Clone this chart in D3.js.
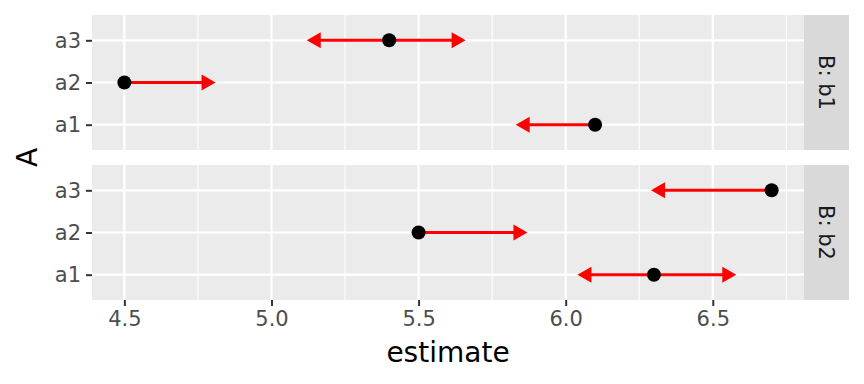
<!DOCTYPE html>
<html><head><meta charset="utf-8">
<script src="https://cdn.jsdelivr.net/npm/d3@7"></script>
<style>body{margin:0;background:#fff}svg{display:block}text{font-family:"DejaVu Sans",sans-serif}</style>
</head><body>
<svg id="c" width="864" height="384"></svg>
<script>
const categories = ["a1","a2","a3"];
const facets = ["b1","b2"];
const estimate = {b1:[6.1,4.5,5.4], b2:[6.3,5.5,6.7]};
const lower    = {b1:[5.83,4.5,5.12], b2:[6.04,5.5,6.29]};
const upper    = {b1:[6.1,4.81,5.66], b2:[6.58,5.87,6.7]};
const xTicks = [4.5,5.0,5.5,6.0,6.5];
const xMinor = [4.75,5.25,5.75,6.25,6.75];

const svg = d3.select("#c");
const L = 92, R = 804, stripW = 45;
const panels = [{f:"b1", top:15, bot:150},{f:"b2", top:165, bot:300}];
const x = d3.scaleLinear().domain([4.39,6.81]).range([L,R]);

panels.forEach((p,pi)=>{
  const y = d3.scalePoint().domain(categories.slice().reverse()).range([p.top,p.bot]).padding(0.6);
  const g = svg.append("g");
  g.append("rect").attr("x",L).attr("y",p.top).attr("width",R-L).attr("height",p.bot-p.top).attr("fill","#EBEBEB");
  g.selectAll(".mn").data(xMinor).enter().append("line")
    .attr("x1",d=>x(d)).attr("x2",d=>x(d)).attr("y1",p.top).attr("y2",p.bot)
    .attr("stroke","#fff").attr("stroke-width",1.1);
  g.selectAll(".mj").data(xTicks).enter().append("line")
    .attr("x1",d=>x(d)).attr("x2",d=>x(d)).attr("y1",p.top).attr("y2",p.bot)
    .attr("stroke","#fff").attr("stroke-width",2.2);
  g.selectAll(".hy").data(categories).enter().append("line")
    .attr("x1",L).attr("x2",R).attr("y1",d=>y(d)).attr("y2",d=>y(d))
    .attr("stroke","#fff").attr("stroke-width",2.2);
  // strip
  g.append("rect").attr("x",R).attr("y",p.top).attr("width",stripW).attr("height",p.bot-p.top).attr("fill","#D9D9D9");
  g.append("text").attr("transform",`translate(${R+stripW/2},${(p.top+p.bot)/2}) rotate(90)`)
    .attr("text-anchor","middle").attr("dy","0.35em").attr("font-size",21).attr("fill","#1A1A1A").text("B: "+p.f);
  // y axis
  const ya = d3.axisLeft(y).tickSize(6).tickPadding(5);
  const yg = g.append("g").attr("transform",`translate(${L},0)`).call(ya);
  yg.select(".domain").remove();
  yg.selectAll(".tick line").attr("stroke","#333").attr("stroke-width",2);
  yg.selectAll(".tick text").attr("font-size",21).attr("fill","#4D4D4D").attr("font-family","DejaVu Sans");
  // arrows
  const hl = 14, hw = 8;
  function arrow(y0, x0, x1){
    if (Math.abs(x1-x0) < 1e-9) return;
    const px0 = x(x0), px1 = x(x1), dir = Math.sign(px1-px0);
    g.append("line").attr("x1",px0).attr("x2",px1 - dir*hl*0.8).attr("y1",y0).attr("y2",y0)
      .attr("stroke","#FF0000").attr("stroke-width",3);
    g.append("path").attr("d",`M${px1},${y0}L${px1-dir*hl},${y0-hw}L${px1-dir*hl},${y0+hw}Z`).attr("fill","#FF0000");
  }
  categories.forEach((c,i)=>{
    arrow(y(c), estimate[p.f][i], lower[p.f][i]);
    arrow(y(c), estimate[p.f][i], upper[p.f][i]);
  });
  g.selectAll(".pt").data(categories).enter().append("circle")
    .attr("cx",(d,i)=>x(estimate[p.f][i])).attr("cy",d=>y(d)).attr("r",7).attr("fill","#000");
});

// x axis
const xa = d3.axisBottom(x).tickValues(xTicks).tickFormat(d3.format(".1f")).tickSize(6).tickPadding(5);
const xg = svg.append("g").attr("transform",`translate(0,300)`).call(xa);
xg.select(".domain").remove();
xg.selectAll(".tick line").attr("stroke","#333").attr("stroke-width",2);
xg.selectAll(".tick text").attr("font-size",21).attr("fill","#4D4D4D").attr("font-family","DejaVu Sans");

svg.append("text").attr("x",(L+R)/2).attr("y",362).attr("text-anchor","middle").attr("font-size",28).attr("fill","#000").text("estimate");
svg.append("text").attr("transform",`translate(37,157.5) rotate(-90)`).attr("text-anchor","middle").attr("font-size",28).attr("fill","#000").text("A");
</script>
</body></html>
